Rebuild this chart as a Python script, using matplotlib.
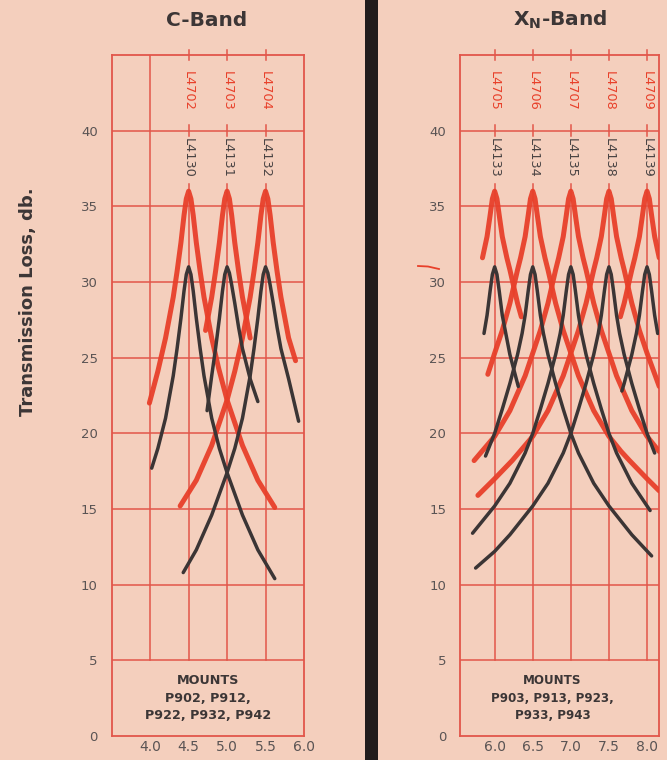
import matplotlib
matplotlib.use("Agg")
import matplotlib.pyplot as plt
from matplotlib.patches import Rectangle
from matplotlib.lines import Line2D

# ---- C-Band data ----
c_freq_ticks = [4.0, 4.5, 5.0, 5.5, 6.0]
c_red_labels = ['L4702', 'L4703', 'L4704']
c_black_labels = ['L4130', 'L4131', 'L4132']
c_centers = [4.5, 5.0, 5.5]

c_red1_x = [3.99, 4.1, 4.2, 4.3, 4.35, 4.4, 4.44, 4.47, 4.5, 4.53, 4.56, 4.6, 4.65, 4.7, 4.8, 4.89, 5.0, 5.2, 5.4, 5.62]
c_red1_y = [22.0, 24.1, 26.3, 29.0, 30.7, 32.6, 34.4, 35.5, 36, 35.5, 34.4, 32.6, 30.7, 29.0, 26.3, 24.3, 22.2, 19.2, 16.9, 15.1]
c_red2_x = [4.72, 4.8, 4.85, 4.9, 4.94, 4.97, 5.0, 5.03, 5.06, 5.1, 5.15, 5.2, 5.3]
c_red2_y = [26.8, 29.0, 30.7, 32.6, 34.4, 35.5, 36, 35.5, 34.4, 32.6, 30.7, 29.0, 26.3]
c_red3_x = [4.39, 4.6, 4.8, 5.0, 5.1, 5.2, 5.3, 5.35, 5.4, 5.44, 5.47, 5.5, 5.53, 5.56, 5.6, 5.65, 5.7, 5.8, 5.89]
c_red3_y = [15.2, 16.9, 19.2, 22.2, 24.1, 26.3, 29.0, 30.7, 32.6, 34.4, 35.5, 36, 35.5, 34.4, 32.6, 30.7, 29.0, 26.3, 24.8]

c_blk1_x = [4.02, 4.1, 4.2, 4.3, 4.35, 4.4, 4.44, 4.47, 4.5, 4.53, 4.56, 4.6, 4.65, 4.7, 4.8, 4.9, 5.0, 5.2, 5.4, 5.62]
c_blk1_y = [17.7, 19.0, 21.0, 23.8, 25.6, 27.6, 29.4, 30.5, 31, 30.5, 29.4, 27.6, 25.6, 23.8, 21.0, 19.0, 17.4, 14.6, 12.3, 10.4]
c_blk2_x = [4.74, 4.8, 4.85, 4.9, 4.94, 4.97, 5.0, 5.03, 5.06, 5.1, 5.15, 5.2, 5.3, 5.4]
c_blk2_y = [21.5, 23.8, 25.6, 27.6, 29.4, 30.5, 31, 30.6, 29.8, 28.6, 27.0, 25.6, 23.6, 22.1]
c_blk3_x = [4.43, 4.6, 4.8, 5.0, 5.1, 5.2, 5.3, 5.35, 5.4, 5.44, 5.47, 5.5, 5.53, 5.56, 5.6, 5.65, 5.7, 5.8, 5.93]
c_blk3_y = [10.8, 12.3, 14.6, 17.4, 19.0, 21.0, 23.8, 25.6, 27.6, 29.4, 30.5, 31, 30.6, 29.8, 28.6, 27.0, 25.6, 23.6, 20.8]

# ---- XN-Band data ----
x_freq_ticks = [6.0, 6.5, 7.0, 7.5, 8.0]
x_red_labels = ['L4705', 'L4706', 'L4707', 'L4708', 'L4709']
x_black_labels = ['L4133', 'L4134', 'L4135', 'L4138', 'L4139']
x_centers = [6.0, 6.5, 7.0, 7.5, 8.0]

x_red1_x = [5.84, 5.9, 5.94, 5.97, 6.0, 6.03, 6.06, 6.1, 6.16, 6.2, 6.3, 6.35]
x_red1_y = [31.6, 33.0, 34.4, 35.5, 36, 35.5, 34.4, 33.0, 31.6, 30.8, 28.6, 27.7]
x_red2_x = [5.91, 6.0, 6.1, 6.2, 6.3, 6.34, 6.4, 6.44, 6.47, 6.5, 6.53, 6.56, 6.6, 6.66, 6.7, 6.8, 6.9, 7.0, 7.1, 7.3, 7.5, 7.66, 7.77, 8.0, 8.16]
x_red2_y = [23.9, 25.3, 26.8, 28.6, 30.8, 31.6, 33.0, 34.4, 35.5, 36, 35.5, 34.4, 33.0, 31.6, 30.8, 28.6, 26.8, 25.3, 23.8, 21.5, 19.8, 18.8, 18.2, 17.0, 16.2]
x_red3_x = [5.73, 6.0, 6.2, 6.4, 6.5, 6.6, 6.7, 6.8, 6.84, 6.9, 6.94, 6.97, 7.0, 7.03, 7.06, 7.1, 7.16, 7.2, 7.3, 7.4, 7.5, 7.6, 7.8, 8.0, 8.16]
x_red3_y = [18.2, 19.8, 21.5, 23.8, 25.3, 26.8, 28.6, 30.8, 31.6, 33.0, 34.4, 35.5, 36, 35.5, 34.4, 33.0, 31.6, 30.8, 28.6, 26.8, 25.3, 23.8, 21.5, 19.8, 18.8]
x_red4_x = [5.78, 6.0, 6.23, 6.5, 6.7, 6.9, 7.0, 7.1, 7.2, 7.3, 7.34, 7.4, 7.44, 7.47, 7.5, 7.53, 7.56, 7.6, 7.66, 7.7, 7.8, 7.9, 8.0, 8.16]
x_red4_y = [15.9, 17.0, 18.2, 19.8, 21.5, 23.8, 25.3, 26.8, 28.6, 30.8, 31.6, 33.0, 34.4, 35.5, 36, 35.5, 34.4, 33.0, 31.6, 30.8, 28.6, 26.8, 25.3, 23.1]
x_red5_x = [7.65, 7.7, 7.8, 7.84, 7.9, 7.94, 7.97, 8.0, 8.03, 8.06, 8.1, 8.16]
x_red5_y = [27.7, 28.6, 30.8, 31.6, 33.0, 34.4, 35.5, 36, 35.5, 34.4, 33.0, 31.6]

x_blk1_x = [5.86, 5.9, 5.94, 5.97, 6.0, 6.03, 6.06, 6.1, 6.2, 6.31]
x_blk1_y = [26.6, 27.8, 29.4, 30.5, 31, 30.5, 29.4, 27.8, 25.2, 23.1]
x_blk2_x = [5.88, 6.0, 6.1, 6.2, 6.3, 6.36, 6.4, 6.44, 6.47, 6.5, 6.53, 6.56, 6.6, 6.64, 6.7, 6.8, 6.9, 7.0, 7.1, 7.3, 7.5, 7.8, 8.06]
x_blk2_y = [18.5, 20.0, 21.6, 23.3, 25.2, 26.6, 27.8, 29.4, 30.5, 31, 30.5, 29.4, 27.8, 26.6, 25.2, 23.3, 21.6, 20.0, 18.7, 16.7, 15.2, 13.3, 11.9]
x_blk3_x = [5.71, 6.0, 6.2, 6.4, 6.5, 6.6, 6.7, 6.8, 6.86, 6.9, 6.94, 6.97, 7.0, 7.03, 7.06, 7.1, 7.14, 7.2, 7.3, 7.4, 7.5, 7.6, 7.8, 8.04]
x_blk3_y = [13.4, 15.2, 16.7, 18.7, 20.0, 21.6, 23.3, 25.2, 26.6, 27.8, 29.4, 30.5, 31, 30.5, 29.4, 27.8, 26.6, 25.2, 23.3, 21.6, 20.0, 18.7, 16.7, 14.9]
x_blk4_x = [5.75, 6.0, 6.2, 6.5, 6.7, 6.9, 7.0, 7.1, 7.2, 7.3, 7.36, 7.4, 7.44, 7.47, 7.5, 7.53, 7.56, 7.6, 7.64, 7.7, 7.8, 7.9, 8.0, 8.1]
x_blk4_y = [11.1, 12.2, 13.3, 15.2, 16.7, 18.7, 20.0, 21.6, 23.3, 25.2, 26.6, 27.8, 29.4, 30.5, 31, 30.5, 29.4, 27.8, 26.6, 25.2, 23.3, 21.6, 20.0, 18.7]
x_blk5_x = [7.67, 7.7, 7.8, 7.86, 7.9, 7.94, 7.97, 8.0, 8.03, 8.06, 8.1, 8.14]
x_blk5_y = [22.8, 23.3, 25.2, 26.6, 27.8, 29.4, 30.5, 31, 30.5, 29.4, 27.8, 26.6]

y_ticks = [0, 5, 10, 15, 20, 25, 30, 35, 40]

paper = '#f4cfbd'
grid_red = '#e2564a'
pen_red = '#e8402a'
pen_black = '#3b3535'
ink = '#3c3636'

fig = plt.figure(figsize=(6.67, 7.6), dpi=100)
fig.patch.set_facecolor(paper)


def panel(rect, xlim, grid_x, centers, red_labels, black_labels, reds, blacks, mounts, mx, msize):
    ax = fig.add_axes(rect)
    ax.set_facecolor('none')
    ax.set_xlim(*xlim)
    ax.set_ylim(0, 45)
    for s in ax.spines.values():
        s.set_color(grid_red)
        s.set_linewidth(1.3)
    # horizontal grid
    for yv in y_ticks[1:]:
        ax.axhline(yv, color=grid_red, lw=1.1, zorder=1)
    # vertical grid, stops at the mounts box and below the part labels
    for xv in grid_x:
        top = 36.5 if xv in centers else 45
        ax.plot([xv, xv], [5, top], color=grid_red, lw=1.1, zorder=1)
    for xv in centers:
        for yv in (45, 40):
            ax.plot([xv, xv], [yv - 0.35, yv + 0.35], color=grid_red, lw=1.1, zorder=1, clip_on=False)
    # curves
    for xs, ys in reds:
        ax.plot(xs, ys, color=pen_red, lw=3.6, solid_joinstyle='round',
                solid_capstyle='round', zorder=3, alpha=0.95)
    for xs, ys in blacks:
        ax.plot(xs, ys, color=pen_black, lw=2.5, solid_joinstyle='round',
                solid_capstyle='round', zorder=4)
    # part labels
    for xv, lab in zip(centers, red_labels):
        ax.text(xv, 42.6, lab, rotation=-90, ha='center', va='center',
                color=pen_red, fontsize=9.3, zorder=5)
    for xv, lab in zip(centers, black_labels):
        ax.text(xv, 38.2, lab, rotation=-90, ha='center', va='center',
                color='#4a4444', fontsize=9.3, zorder=5,
                bbox=dict(facecolor=paper, edgecolor='none', pad=0.3))
    ax.set_yticks(y_ticks)
    ax.set_yticklabels([str(v) for v in y_ticks], color='#5a5454', fontsize=9.5)
    ax.set_xticks(grid_x)
    ax.set_xticklabels(['%.1f' % v for v in grid_x], color='#5a5454', fontsize=10)
    ax.tick_params(length=0, pad=10)
    ax.tick_params(axis='x', pad=3)
    ax.text(mx, 2.5, mounts, ha='center', va='center', color=ink,
            fontsize=msize, fontweight='bold', linespacing=1.45)
    return ax


axl = panel([111.7 / 667, 1 - 736 / 760, 192.3 / 667, 681 / 760], (3.5, 6.0),
            c_freq_ticks[:-1], c_centers, c_red_labels, c_black_labels,
            [(c_red1_x, c_red1_y), (c_red2_x, c_red2_y), (c_red3_x, c_red3_y)],
            [(c_blk1_x, c_blk1_y), (c_blk2_x, c_blk2_y), (c_blk3_x, c_blk3_y)],
            'MOUNTS\nP902, P912,\nP922, P932, P942', 4.75, 9.2)

axr = panel([460 / 667, 1 - 736 / 760, 199 / 667, 681 / 760], (5.545, 8.157),
            x_freq_ticks, x_centers, x_red_labels, x_black_labels,
            [(x_red1_x, x_red1_y), (x_red2_x, x_red2_y), (x_red3_x, x_red3_y),
             (x_red4_x, x_red4_y), (x_red5_x, x_red5_y)],
            [(x_blk1_x, x_blk1_y), (x_blk2_x, x_blk2_y), (x_blk3_x, x_blk3_y),
             (x_blk4_x, x_blk4_y), (x_blk5_x, x_blk5_y)],
            'MOUNTS\nP903, P913, P923,\nP933, P943', 6.76, 8.6)

# left panel x ticks include the 6.0 right edge label
axl.set_xticks(c_freq_ticks)
axl.set_xticklabels(['%.1f' % v for v in c_freq_ticks], color='#5a5454', fontsize=10)

# titles
fig.text(207 / 667, 1 - 20 / 760, 'C-Band', ha='center', va='center',
         fontsize=14.5, fontweight='bold', color=ink)
fig.text(560 / 667, 1 - 20 / 760, r'X$_\mathregular{N}$-Band', ha='center', va='center',
         fontsize=14.5, fontweight='bold', color=ink)
fig.text(28 / 667, 1 - 302 / 760, 'Transmission Loss, db.', rotation=90,
         ha='center', va='center', fontsize=13, fontweight='bold', color=ink)

# black divider between the panels
fig.add_artist(Rectangle((365 / 667, 0), 13 / 667, 1, transform=fig.transFigure,
                         facecolor='#211c1c', edgecolor='none'))
# small hand mark near 30 on right scale
fig.add_artist(Line2D([418 / 667, 428 / 667, 439 / 667], [1 - 266 / 760, 1 - 266.5 / 760, 1 - 269 / 760],
                      transform=fig.transFigure, color=pen_red, lw=1.3))

fig.savefig('out.png', dpi=100, facecolor=paper)
